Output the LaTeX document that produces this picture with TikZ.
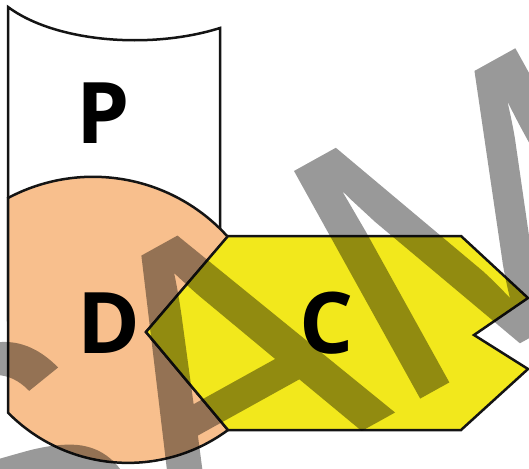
\documentclass[tikz,border=0pt]{standalone}
\usepackage{fontspec}
\setmainfont{Open Sans}
\newfontfamily\wmfont[FakeBold=0.6]{Liberation Sans}
\definecolor{peach}{HTML}{F8BF8D}
\definecolor{lemon}{HTML}{F2E81C}
\definecolor{ink}{HTML}{141414}
\tikzset{
  part/.style={draw=ink,line width=2.5pt,line join=miter},
  letter/.style={inner sep=0pt,anchor=base,text=black,
    font=\fontsize{85}{85}\selectfont\bfseries},
  wmark/.style={inner sep=0pt,anchor=base west,rotate=29,text=black,
    font=\wmfont\fontsize{375}{375}\selectfont}
}
\begin{document}
\begin{tikzpicture}[x=1pt,y=-1pt]
 \useasboundingbox (0,0) rectangle (529,468);
 % paper tab
 \draw[part,fill=white] (8,7) .. controls (55,42) and (150,50) .. (220,28) -- (220,320) -- (8,320) -- cycle;
 % disc, cut on the left
 \draw[part,fill=peach] (8,198) arc[start angle=-118,end angle=-42,radius=181.2] -- (146,332) -- (228,430)
   arc[start angle=53.6,end angle=135.4,radius=168.5] -- cycle;
 % notched block
 \draw[part,fill=lemon] (228,236) -- (461,236) -- (528,298) -- (474,335) -- (528,369) -- (461,430) -- (228,430) -- (146,332) -- cycle;
 \node[letter] (p) at (103.5,143) {P};
 \node[letter] (d) at (109,353) {D};
 \node[letter] (c) at (327,353) {C};
 % watermark
 \begin{scope}[transparency group,opacity=0.4]
  \clip (0,0) rectangle (529,468);
  \node[wmark] (sample) at (-44,654.6) {SAMPLE};
 \end{scope}
\end{tikzpicture}
\end{document}
